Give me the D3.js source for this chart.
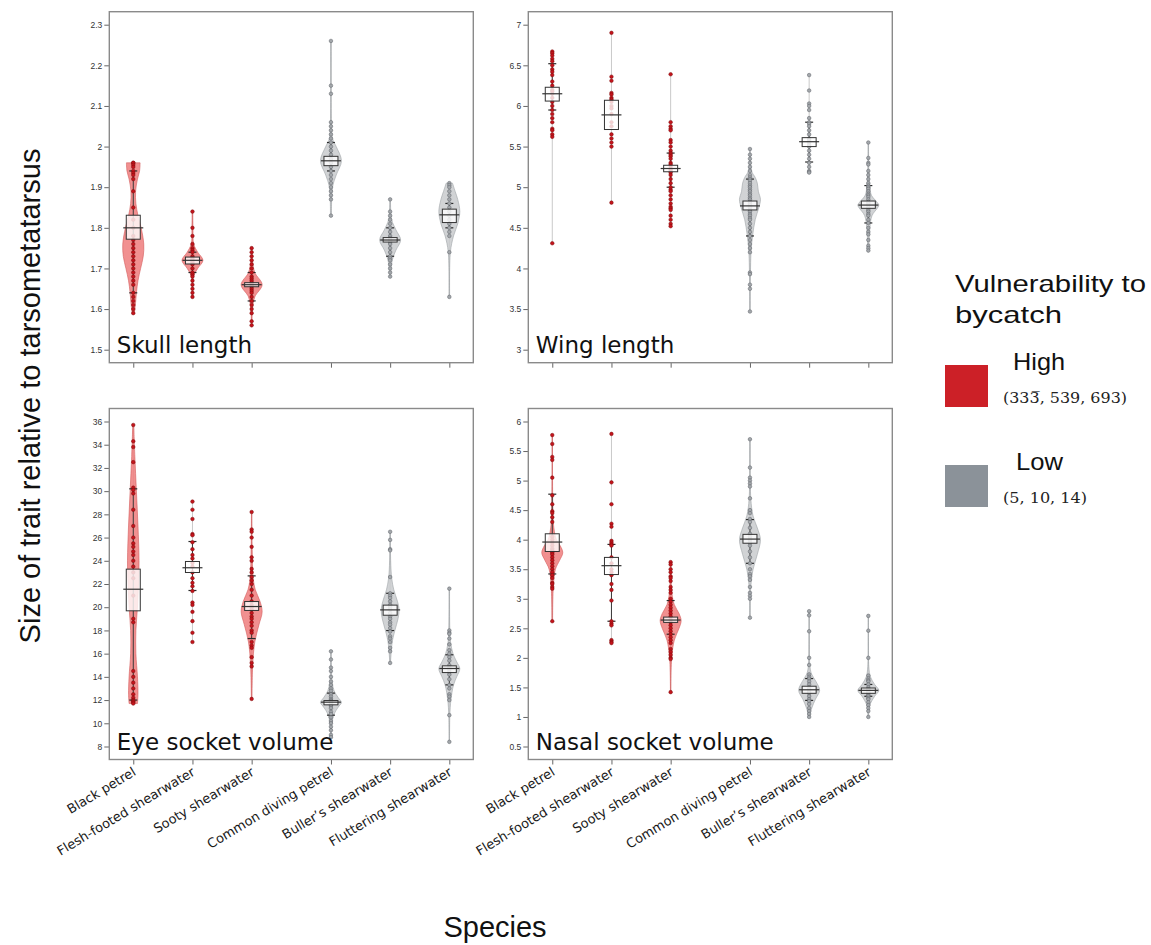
<!DOCTYPE html>
<html><head><meta charset="utf-8">
<script src="https://cdn.jsdelivr.net/npm/d3@7"></script>
<style>body{margin:0;background:#fff}svg{display:block}</style>
</head><body>
<svg id="chart" width="1151" height="945"></svg>
<script>
// ---------------- DATA ----------------
const species = ["Black petrel","Flesh-footed shearwater","Sooty shearwater","Common diving petrel","Buller\u2019s shearwater","Fluttering shearwater"];
const vulnerability = ["High","High","High","Low","Low","Low"];
const traits = ["Skull length","Wing length","Eye socket volume","Nasal socket volume"];

const skullTicks = [1.5,1.6,1.7,1.8,1.9,2.0,2.1,2.2,2.3];
const skullTickLabels = ["1.5","1.6","1.7","1.8","1.9","2","2.1","2.2","2.3"];
const wingTicks = [3,3.5,4,4.5,5,5.5,6,6.5,7];
const wingTickLabels = ["3","3.5","4","4.5","5","5.5","6","6.5","7"];
const eyeTicks = [8,10,12,14,16,18,20,22,24,26,28,30,32,34,36];
const eyeTickLabels = ["8","10","12","14","16","18","20","22","24","26","28","30","32","34","36"];
const nasalTicks = [0.5,1,1.5,2,2.5,3,3.5,4,4.5,5,5.5,6];
const nasalTickLabels = ["0.5","1","1.5","2","2.5","3","3.5","4","4.5","5","5.5","6"];

// individual measurements (per species)
const skullPoints = [
  [1.96,1.96,1.955,1.95,1.94,1.935,1.93,1.92,1.89,1.85,1.82,1.80,1.78,1.77,1.76,1.75,1.74,1.73,1.72,1.71,1.70,1.69,1.68,1.67,1.66,1.64,1.63,1.62,1.61,1.60,1.59],
  [1.84,1.80,1.78,1.76,1.75,1.745,1.74,1.73,1.725,1.72,1.72,1.715,1.71,1.70,1.69,1.685,1.68,1.67,1.66,1.65,1.64,1.63],
  [1.75,1.74,1.73,1.72,1.71,1.70,1.69,1.68,1.675,1.67,1.665,1.66,1.66,1.655,1.65,1.645,1.64,1.63,1.62,1.61,1.60,1.59,1.57,1.56],
  [2.26,2.15,2.13,2.06,2.05,2.04,2.03,2.02,2.01,2.0,1.99,1.98,1.97,1.96,1.95,1.94,1.93,1.92,1.91,1.90,1.89,1.88,1.87,1.83],
  [1.87,1.84,1.83,1.82,1.81,1.80,1.79,1.78,1.775,1.77,1.765,1.76,1.75,1.74,1.73,1.725,1.72,1.71,1.70,1.69,1.68],
  [1.91,1.905,1.90,1.89,1.88,1.87,1.86,1.85,1.84,1.83,1.82,1.81,1.80,1.79,1.78,1.74,1.63]
];
const skullBox = [[1.772,1.80,1.831],[1.711,1.72,1.728],[1.655,1.66,1.665],[1.953,1.965,1.976],[1.765,1.77,1.776],[1.813,1.832,1.846]];
const skullCaps = [[1.64,1.94],[1.69,1.74],[1.62,1.69],[1.94,2.01],[1.73,1.80],[1.80,1.86]];
const skullViolin = [
  [[1.59,0.1],[1.61,0.2],[1.64,0.3],[1.67,0.45],[1.70,0.7],[1.73,0.95],[1.76,1.0],[1.80,0.75],[1.83,0.45],[1.86,0.25],[1.89,0.22],[1.92,0.4],[1.94,0.6],[1.96,0.65]],
  [[1.63,0.05],[1.68,0.1],[1.70,0.5],[1.72,1.0],[1.74,0.5],[1.76,0.12],[1.80,0.05],[1.84,0.03]],
  [[1.56,0.03],[1.60,0.08],[1.63,0.3],[1.66,1.0],[1.69,0.3],[1.72,0.08],[1.75,0.03]],
  [[1.83,0.05],[1.90,0.15],[1.93,0.5],[1.965,1.0],[2.0,0.5],[2.02,0.15],[2.06,0.05],[2.26,0.02]],
  [[1.68,0.05],[1.72,0.2],[1.745,0.55],[1.77,1.0],[1.795,0.55],[1.82,0.15],[1.87,0.03]],
  [[1.63,0.03],[1.74,0.1],[1.78,0.4],[1.81,0.8],[1.84,1.0],[1.87,0.8],[1.89,0.55],[1.91,0.3]]
];

const wingPoints = [
  [6.67,6.65,6.62,6.58,6.55,6.5,6.45,6.42,6.38,6.3,6.25,6.2,6.18,6.15,6.1,6.05,6.0,5.95,5.9,5.85,5.8,5.72,5.7,5.65,5.62,4.31],
  [6.9,6.36,6.31,6.16,6.14,6.1,6.08,6.05,6.0,5.97,5.9,5.8,5.75,5.65,5.6,5.55,5.5,4.81],
  [6.39,5.8,5.75,5.72,5.7,5.58,5.55,5.5,5.45,5.42,5.4,5.38,5.35,5.3,5.28,5.25,5.22,5.2,5.18,5.15,5.1,5.05,5.0,4.97,4.95,4.9,4.85,4.8,4.76,4.74,4.72,4.65,4.6,4.55,4.52],
  [5.47,5.4,5.35,5.3,5.25,5.2,5.15,5.12,5.1,5.08,5.05,5.02,5.0,4.97,4.95,4.92,4.9,4.87,4.85,4.82,4.8,4.78,4.75,4.72,4.7,4.67,4.65,4.62,4.6,4.55,4.5,4.45,4.4,4.35,4.3,4.25,4.2,3.95,3.93,3.8,3.75,3.47],
  [6.38,6.19,6.03,6.0,5.95,5.85,5.8,5.78,5.75,5.7,5.65,5.6,5.58,5.55,5.52,5.5,5.45,5.4,5.35,5.3,5.25,5.2,5.19,5.18],
  [5.55,5.36,5.3,5.28,5.2,5.15,5.1,5.05,5.02,5.0,4.98,4.95,4.92,4.9,4.88,4.85,4.82,4.8,4.78,4.75,4.72,4.7,4.67,4.65,4.6,4.56,4.5,4.45,4.42,4.35,4.28,4.25,4.22]
];
const wingBox = [[6.06,6.15,6.23],[5.71,5.89,6.07],[5.19,5.23,5.27],[4.72,4.77,4.83],[5.50,5.56,5.61],[4.74,4.78,4.83]];
const wingCaps = [[5.95,6.52],null,[5.0,5.42],[4.40,5.10],[5.31,5.80],[4.56,5.02]];
const wingViolin = [
  [],
  [],
  [],
  [[3.47,0.02],[4.2,0.1],[4.4,0.25],[4.6,0.5],[4.75,0.85],[4.85,1.0],[4.95,0.8],[5.05,0.7],[5.12,0.5],[5.2,0.15],[5.47,0.03]],
  [],
  [[4.22,0.05],[4.5,0.15],[4.65,0.35],[4.75,0.9],[4.78,1.0],[4.82,0.8],[4.9,0.3],[5.0,0.15],[5.2,0.05],[5.55,0.02]]
];

const eyePoints = [
  [35.7,34.3,33.8,32.5,30.3,30.1,29.8,28.4,27,26,25.5,25.2,24.8,24.5,24,23.5,23,22.5,21,19,18.7,14.5,14,13.5,13,12.5,12.2,12,11.9,11.8,11.7],
  [29.1,28.4,27.6,26.3,26.2,25.6,25.0,24.5,24.2,23.8,23.5,23.0,22.5,22.1,21.8,21.4,20.4,20.2,19.6,18.8,17.8,17.0],
  [28.2,26.7,26.5,26.0,25.2,24.3,24.0,23.3,23.0,22.6,22.3,22.0,21.5,21.0,20.5,20.2,20.0,19.8,19.5,19.2,19.0,18.7,18.4,18.0,17.8,17.0,16.7,16.5,15.7,15.2,14.9,12.1],
  [16.2,15.5,14.8,14.5,14.0,13.6,13.3,13.0,12.8,12.5,12.3,12.1,12.0,11.9,11.8,11.7,11.6,11.5,11.3,11.0,10.8,10.5,10.2,10.0,9.7,9.4,9.0,8.8],
  [26.5,25.8,25.0,24.9,22.6,21.2,21.0,20.8,20.5,20.2,20.0,19.8,19.5,19.2,19.0,18.7,18.5,18.2,17.9,17.5,17.3,17.0,16.5,16.2,15.2],
  [21.6,18.0,17.8,17.7,17.3,16.8,16.3,16.0,15.7,15.4,15.0,14.8,14.6,14.4,14.2,13.8,13.3,13.0,12.5,12.3,12.0,10.7,8.4]
];
const eyeBox = [[19.69,21.55,23.28],[22.99,23.4,23.94],[19.72,20.06,20.49],[11.59,11.82,11.96],[19.31,19.77,20.18],[14.37,14.72,14.95]];
const eyeCaps = [[12.0,30.2],[21.44,25.66],[17.3,22.7],[10.7,12.6],[17.99,21.2],[13.31,15.9]];
const eyeViolin = [
  [[11.7,0.4],[12.5,0.45],[14,0.4],[16,0.25],[18,0.25],[20,0.4],[22,0.5],[24,0.55],[27,0.45],[30,0.3],[33,0.15],[35.7,0.05]],
  [],
  [[12.1,0.03],[15,0.1],[17,0.3],[18.5,0.7],[19.6,1.0],[20.5,0.8],[21.5,0.35],[22.5,0.15],[25,0.05],[28.2,0.02]],
  [[8.8,0.03],[10,0.1],[10.8,0.3],[11.4,0.7],[11.8,1.0],[12.2,0.7],[12.8,0.3],[13.5,0.12],[14.5,0.05],[16.2,0.02]],
  [[15.2,0.03],[17,0.2],[18,0.45],[19,0.75],[19.8,0.85],[20.5,0.7],[21.5,0.35],[22.5,0.15],[24,0.05],[26.5,0.02]],
  [[8.4,0.02],[10.7,0.05],[12,0.15],[13.3,0.4],[14,0.7],[14.7,1.0],[15.3,0.7],[16,0.35],[17,0.12],[18,0.05],[21.6,0.02]]
];

const nasalPoints = [
  [5.77,5.62,5.4,5.35,5.05,4.75,4.6,4.48,4.45,4.38,4.3,4.05,4.0,3.95,3.9,3.85,3.82,3.8,3.78,3.75,3.7,3.65,3.6,3.55,3.5,3.45,3.4,3.35,3.27,3.25,3.2,3.17,2.62],
  [5.79,4.97,4.6,4.27,4.22,3.98,3.95,3.92,3.9,3.7,3.6,3.5,3.45,3.4,3.25,3.15,2.97,2.62,2.58,2.55,2.3,2.27,2.25],
  [3.62,3.58,3.5,3.45,3.38,3.35,3.3,3.2,3.15,3.1,3.0,2.95,2.9,2.85,2.8,2.75,2.7,2.65,2.6,2.55,2.5,2.45,2.4,2.35,2.3,2.25,2.15,2.1,2.05,2.0,1.98,1.42],
  [5.7,5.22,5.05,5.0,4.95,4.9,4.7,4.5,4.45,4.35,4.3,4.2,4.1,4.05,4.0,3.95,3.9,3.8,3.7,3.6,3.5,3.42,3.38,3.32,3.2,3.1,3.05,3.0,2.68],
  [2.79,2.72,2.45,2.0,1.88,1.72,1.68,1.65,1.6,1.55,1.5,1.47,1.45,1.42,1.4,1.35,1.3,1.27,1.22,1.15,1.1,1.05,1.0],
  [2.71,2.46,2.0,1.7,1.65,1.62,1.6,1.55,1.5,1.47,1.45,1.42,1.4,1.37,1.35,1.32,1.3,1.25,1.2,1.15,1.1,1.0]
];
const nasalBox = [[3.80,3.96,4.10],[3.41,3.56,3.70],[2.60,2.64,2.69],[3.94,4.01,4.09],[1.40,1.46,1.52],[1.40,1.45,1.49]];
const nasalCaps = [[3.42,4.77],[2.62,3.92],[2.40,2.97],[3.60,4.34],[1.28,1.65],[1.35,1.55]];
const nasalViolin = [
  [[2.62,0.03],[3.2,0.1],[3.5,0.3],[3.65,0.7],[3.78,1.0],[3.9,0.75],[4.0,0.4],[4.2,0.15],[4.6,0.05],[5.77,0.02]],
  [],
  [[1.42,0.02],[2.0,0.1],[2.3,0.35],[2.5,0.8],[2.63,1.0],[2.75,0.8],[2.9,0.35],[3.1,0.12],[3.62,0.03]],
  [[2.68,0.02],[3.2,0.08],[3.5,0.3],[3.75,0.7],[4.0,1.0],[4.2,0.7],[4.4,0.3],[4.7,0.08],[5.7,0.02]],
  [[1.0,0.05],[1.15,0.25],[1.3,0.6],[1.45,1.0],[1.6,0.65],[1.72,0.25],[1.85,0.08],[2.79,0.02]],
  [[1.0,0.03],[1.2,0.15],[1.35,0.6],[1.45,1.0],[1.55,0.6],[1.68,0.2],[1.85,0.05],[2.71,0.02]]
];

const legendLevels = ["High","Low"];
const legendNotes = ["(33", "(5, 10, 14)"];

// ---------------- DRAW ----------------
const svg = d3.select("#chart");
svg.append("rect").attr("width",1151).attr("height",945).attr("fill","#fff");

const colors = {
  High:{violin:"#ee7d7d", vstroke:"#d35a5a", pt:"#c4141c", ptStroke:"#7a0a0a"},
  Low:{violin:"#c9cbce", vstroke:"#9ea2a6", pt:"#a3a7ab", ptStroke:"#5d6166"}
};

const PW = 364, PH = 351;
const panels = [
  {trait:traits[0], x0:109.3, y0:11.7, ticks:skullTicks, labels:skullTickLabels, pts:skullPoints, box:skullBox, caps:skullCaps, vio:skullViolin, xl:false},
  {trait:traits[1], x0:528.3, y0:11.7, ticks:wingTicks, labels:wingTickLabels, pts:wingPoints, box:wingBox, caps:wingCaps, vio:wingViolin, xl:false},
  {trait:traits[2], x0:109.3, y0:408.5, ticks:eyeTicks, labels:eyeTickLabels, pts:eyePoints, box:eyeBox, caps:eyeCaps, vio:eyeViolin, xl:true},
  {trait:traits[3], x0:528.3, y0:408.5, ticks:nasalTicks, labels:nasalTickLabels, pts:nasalPoints, box:nasalBox, caps:nasalCaps, vio:nasalViolin, xl:true}
];

// category slots: extra gap between vulnerability groups
const slot = species.map((s,i)=> i + (vulnerability[i] !== vulnerability[0] ? 0.34 : 0));
const x = d3.scaleLinear().domain([-0.405, 5.745]).range([0, PW]);
const wScale = d3.scaleLinear().domain([0,1]).range([0,10.5]);

panels.forEach(p=>{
  const g = svg.append("g").attr("transform",`translate(${p.x0},${p.y0})`);
  const y = d3.scaleLinear().domain([p.ticks[0], p.ticks[p.ticks.length-1]]).range([PH-13, 13]);

  // y axis
  const ya = g.append("g").call(d3.axisLeft(y).tickValues(p.ticks).tickFormat((d,i)=>p.labels[i]).tickSize(5).tickPadding(2));
  ya.select(".domain").remove();
  ya.selectAll("line").attr("stroke","#666");
  ya.selectAll("text").attr("font-family","Liberation Sans, Arial, sans-serif").attr("font-size",8.5).attr("fill","#333");

  // x axis
  const xa = g.append("g").attr("transform",`translate(0,${PH})`)
    .call(d3.axisBottom(x).tickValues(slot).tickFormat((d,i)=> p.xl ? species[i] : "").tickSize(5));
  xa.select(".domain").remove();
  xa.selectAll("line").attr("stroke","#666");
  xa.selectAll("text").attr("font-family","DejaVu Sans, Verdana, sans-serif").attr("font-size",13).attr("fill","#1a1a1a")
    .attr("text-anchor","end").attr("y",0).attr("dy",0).attr("transform","translate(3,15) rotate(-31)");

  // frame
  g.append("rect").attr("width",PW).attr("height",PH).attr("fill","none").attr("stroke","#8a8a8a").attr("stroke-width",1.4);

  species.forEach((s,i)=>{
    const c = colors[vulnerability[i]];
    const cx = x(slot[i]);
    const pts = p.pts[i];
    const ext = d3.extent(pts);
    // full range line
    g.append("line").attr("x1",cx).attr("x2",cx).attr("y1",y(ext[0])).attr("y2",y(ext[1]))
      .attr("stroke","#c9c9c9").attr("stroke-width",1);
    // violin
    if (p.vio[i].length){
      const area = d3.area().curve(d3.curveCatmullRom)
        .y(d=>y(d[0])).x0(d=>cx - wScale(d[1])).x1(d=>cx + wScale(d[1]));
      g.append("path").attr("d",area(p.vio[i])).attr("fill",c.violin).attr("fill-opacity",0.85)
        .attr("stroke",c.vstroke).attr("stroke-width",0.6);
    }
    // whisker between caps
    const cp = p.caps[i];
    if (cp){
      g.append("line").attr("x1",cx).attr("x2",cx).attr("y1",y(cp[0])).attr("y2",y(cp[1]))
        .attr("stroke","#3a3a3a").attr("stroke-width",1);
      cp.forEach(v=>g.append("line").attr("x1",cx-4).attr("x2",cx+4).attr("y1",y(v)).attr("y2",y(v))
        .attr("stroke","#2a2a2a").attr("stroke-width",1.2));
    }
    // points
    g.append("g").selectAll("circle").data(pts).join("circle")
      .attr("cx",cx).attr("cy",d=>y(d)).attr("r",1.8)
      .attr("fill",c.pt).attr("stroke",c.ptStroke).attr("stroke-width",0.5);
    // box
    const b = p.box[i];
    g.append("rect").attr("x",cx-7).attr("width",14).attr("y",y(b[2])).attr("height",y(b[0])-y(b[2]))
      .attr("fill","#fff").attr("fill-opacity",0.8).attr("stroke","#333").attr("stroke-width",1);
    g.append("line").attr("x1",cx-10).attr("x2",cx+10).attr("y1",y(b[1])).attr("y2",y(b[1]))
      .attr("stroke","#333").attr("stroke-width",1.2);
  });

  // panel label
  g.append("text").attr("x",7.5).attr("y",PH-10).text(p.trait)
    .attr("font-family","DejaVu Sans, Verdana, sans-serif").attr("font-size",23).attr("fill","#111");
});

// axis titles
svg.append("text").attr("transform","translate(40,396) rotate(-90)").attr("text-anchor","middle")
  .attr("font-family","Liberation Sans, Arial, sans-serif").attr("font-size",29).attr("fill","#111")
  .text("Size of trait relative to tarsometatarsus");
svg.append("text").attr("x",495).attr("y",937).attr("text-anchor","middle")
  .attr("font-family","Liberation Sans, Arial, sans-serif").attr("font-size",29).attr("fill","#111")
  .text("Species");

// legend
const lg = svg.append("g");
const sans = "Liberation Sans, Arial, sans-serif";
lg.append("text").attr("x",955).attr("y",292).attr("font-family",sans).attr("font-size",24)
  .attr("textLength",191).attr("lengthAdjust","spacingAndGlyphs").attr("fill","#111").text("Vulnerability to");
lg.append("text").attr("x",955).attr("y",323).attr("font-family",sans).attr("font-size",24)
  .attr("textLength",107).attr("lengthAdjust","spacingAndGlyphs").attr("fill","#111").text("bycatch");
const swatch = {High:"#cc2027", Low:"#8b9299"};
legendLevels.forEach((lv,i)=>{
  const yy = 365 + i*100;
  lg.append("rect").attr("x",945).attr("y",yy).attr("width",43).attr("height",42).attr("fill",swatch[lv]);
  lg.append("text").attr("x",lv==="High"?1013:1016).attr("y",yy+5).attr("font-family",sans).attr("font-size",24)
    .attr("textLength",lv==="High"?52:47).attr("lengthAdjust","spacingAndGlyphs").attr("fill","#111").text(lv);
  const t = lg.append("text").attr("x",1003).attr("y",yy+38).attr("font-family","DejaVu Serif, Liberation Serif, serif")
    .attr("font-size",14).attr("fill","#222");
  if (lv==="High"){
    t.attr("textLength",124).attr("lengthAdjust","spacingAndGlyphs");
    t.text(legendNotes[0] + "3\u0305, 539, 693)");
  } else {
    t.attr("textLength",84).attr("lengthAdjust","spacingAndGlyphs").text(legendNotes[1]);
  }
});
</script>
</body></html>
